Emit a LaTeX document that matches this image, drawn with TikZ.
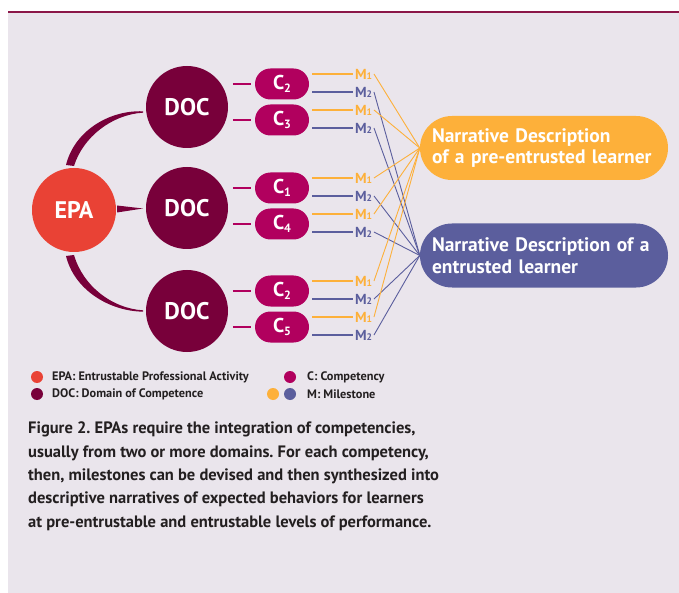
\documentclass[tikz,border=0pt]{standalone}
\usepackage{fontspec}
\setmainfont{PT Sans}
\usetikzlibrary{calc}
\definecolor{panel}{HTML}{EAE5EC}
\definecolor{epacol}{HTML}{E94235}
\definecolor{doccol}{HTML}{78003A}
\definecolor{compcol}{HTML}{B1005E}
\definecolor{morange}{HTML}{FDB03A}
\definecolor{mblue}{HTML}{5B5E9D}
\definecolor{topline}{HTML}{8B1748}
\definecolor{captext}{HTML}{231F20}
\newcommand\mycsub[1]{C\raisebox{-3pt}{\fontsize{12}{12}\selectfont #1}}
\newcommand\mymsub[1]{M{\fontsize{9.5}{9.5}\selectfont #1}}
\frenchspacing
\begin{document}
\begin{tikzpicture}[x=1pt,y=-1pt,
  bigcirc/.style={circle, inner sep=0pt, text=white, font=\bfseries\fontsize{24}{24}\selectfont},
  pill/.style={rectangle, rounded corners=15.5pt, minimum width=54pt, minimum height=31pt, fill=compcol, text=white, inner sep=0pt, font=\bfseries\fontsize{20}{20}\selectfont},
  mlab/.style={anchor=west, inner sep=0pt, outer sep=2pt, font=\bfseries\fontsize{14.5}{14.5}\selectfont},
  dashc/.style={draw=compcol, line width=2.2pt},
  oline/.style={draw=morange, line width=2pt},
  bline/.style={draw=mblue, line width=2pt},
  othin/.style={draw=morange, line width=0.9pt},
  bthin/.style={draw=mblue, line width=0.9pt},
  nbox/.style={rectangle, rounded corners=32pt, minimum height=64pt, text width=224pt, inner xsep=12pt, inner ysep=0pt, align=left, text=white, font=\bfseries\fontsize{19.5}{21.5}\selectfont},
  ldot/.style={circle, minimum size=12pt, inner sep=0pt},
  ltext/.style={anchor=west, inner sep=0pt, text=captext, font=\bfseries\fontsize{12.3}{12.3}\selectfont}
]
\useasboundingbox (0,0) rectangle (679,593);
\fill[panel] (8,13) rectangle (679,593);
\draw[topline, line width=2pt] (8,12) -- (679,12);

% main circles
\node[bigcirc, fill=epacol, minimum size=84pt] (epa) at (74,210) {EPA};
\node[bigcirc, fill=doccol, minimum size=82pt] (d1) at (187,107) {DOC};
\node[bigcirc, fill=doccol, minimum size=82pt] (d2) at (187,208) {DOC};
\node[bigcirc, fill=doccol, minimum size=82pt] (d3) at (187,311) {DOC};

% tapered connectors EPA -> DOC
\fill[doccol] (66,165) .. controls (74,132) and (108,110) .. (143,111.3)
  -- (143,112.7) .. controls (112,114.5) and (83,137) .. (74,166) -- cycle;
\fill[doccol] (117,205.5) -- (143,208.5) -- (117,212.5) -- cycle;
\fill[doccol] (66,256) .. controls (74,289) and (108,311) .. (143,311.7)
  -- (143,310.3) .. controls (112,308.5) and (83,286) .. (74,255) -- cycle;

% narrative boxes
\node[nbox, fill=morange] (no) at (544,148) {Narrative Description\\of a pre-entrusted learner};
\node[nbox, fill=mblue] (nb) at (544,255.5) {Narrative Description of a\\entrusted learner};

% competencies and milestones
\foreach \n/\s/\y in {a/2/84, b/3/120, c/1/188, e/4/224, f/2/291, g/5/327} {
  \node[pill] (c\n) at (282,\y) {\mycsub{\s}};
  \draw[dashc] ($(c\n.west)+(-22,0)$) -- ($(c\n.west)+(-4,0)$);
  \node[mlab, text=morange] (m1\n) at (353,\y-10) {\mymsub{1}};
  \node[mlab, text=mblue] (m2\n) at (353,\y+8) {\mymsub{2}};
  \draw[oline] ($(c\n.east)+(3,-10)$) -- (m1\n.west);
  \draw[bline] ($(c\n.east)+(3,8)$) -- (m2\n.west);
  \draw[othin] (m1\n.east) -- (no.west);
  \draw[bthin] (m2\n.east) -- (nb.west);
}

% legend
\node[ldot, fill=epacol] (l1) at (37,377) {};
\node[ltext] (t1) at (52,377) {EPA: Entrustable Professional Activity};
\node[ldot, fill=doccol] (l2) at (37,394) {};
\node[ltext] (t2) at (52,394) {DOC: Domain of Competence};
\node[ldot, fill=compcol] (l3) at (290,377) {};
\node[ltext] (t3) at (307,377) {C: Competency};
\node[ldot, fill=morange] (l4) at (273,394) {};
\node[ldot, fill=mblue] (l5) at (290,394) {};
\node[ltext] (t4) at (307,394) {M: Milestone};

% caption
\node[anchor=north west, align=left, inner sep=0pt, text=captext, font=\bfseries\fontsize{16.5}{23.3}\selectfont] (cap) at (28,422)
{Figure 2. EPAs require the integration of competencies,\\
usually from two or more domains. For each competency,\\
then, milestones can be devised and then synthesized into\\
descriptive narratives of expected behaviors for learners\\
at pre-entrustable and entrustable levels of performance.};
\end{tikzpicture}
\end{document}
